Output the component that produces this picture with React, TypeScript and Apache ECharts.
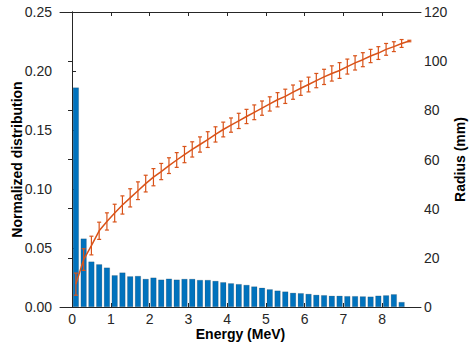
import React, { useEffect, useRef } from "react";
import * as echarts from "echarts";

const energies = [0.1, 0.3, 0.5, 0.7, 0.9, 1.1, 1.3, 1.5, 1.7, 1.9, 2.1, 2.3, 2.5, 2.7, 2.9, 3.1, 3.3, 3.5, 3.7, 3.9, 4.1, 4.3, 4.5, 4.7, 4.9, 5.1, 5.3, 5.5, 5.7, 5.9, 6.1, 6.3, 6.5, 6.7, 6.9, 7.1, 7.3, 7.5, 7.7, 7.9, 8.1, 8.3, 8.5];
const distribution = [0.186, 0.058, 0.0385, 0.0362, 0.0334, 0.0269, 0.0292, 0.026, 0.0263, 0.0238, 0.0249, 0.0232, 0.024, 0.0232, 0.0238, 0.0238, 0.0229, 0.0229, 0.0221, 0.021, 0.0201, 0.0194, 0.0187, 0.0174, 0.0163, 0.015, 0.0139, 0.0131, 0.012, 0.0117, 0.0111, 0.0103, 0.01, 0.0095, 0.0095, 0.0092, 0.0092, 0.009, 0.0088, 0.0096, 0.0099, 0.0108, 0.0042];

const radiusEnergies = [0.1, 0.3, 0.5, 0.7, 0.9, 1.1, 1.3, 1.5, 1.7, 1.9, 2.1, 2.3, 2.5, 2.7, 2.9, 3.1, 3.3, 3.5, 3.7, 3.9, 4.1, 4.3, 4.5, 4.7, 4.9, 5.1, 5.3, 5.5, 5.7, 5.9, 6.1, 6.3, 6.5, 6.7, 6.9, 7.1, 7.3, 7.5, 7.7, 7.9, 8.1, 8.3, 8.5, 8.7];
const radius = [9.3, 19.3, 25.0, 31.0, 34.8, 38.2, 41.5, 44.4, 47.3, 50.2, 52.8, 55.1, 57.5, 59.8, 62.0, 64.1, 66.1, 68.1, 70.2, 72.2, 74.0, 75.7, 77.5, 79.2, 80.9, 82.6, 84.3, 85.7, 87.4, 89.0, 90.5, 92.1, 93.6, 95.0, 96.2, 97.8, 99.3, 100.6, 102.1, 103.3, 104.8, 105.9, 107.2, 108.2];
const radiusErr = [4.5, 4.4, 3.8, 3.5, 3.5, 3.6, 3.7, 3.7, 3.6, 3.4, 3.5, 3.3, 3.2, 3.0, 3.3, 3.1, 3.1, 3.2, 3.1, 3.0, 2.9, 3.1, 2.9, 3.0, 2.9, 2.9, 2.9, 2.9, 2.9, 2.9, 3.0, 2.9, 3.1, 3.1, 3.2, 3.05, 2.9, 2.85, 2.7, 2.6, 2.4, 2.0, 1.6, 0.3];

const xTicks = [0, 1, 2, 3, 4, 5, 6, 7, 8];

const FONT = "'Liberation Sans', Arial, Helvetica, sans-serif";
const AX = "#262626";
const ORANGE = "#D95319";
const BLUE = "#0072BD";

export default function App() {
  const ref = useRef<HTMLDivElement>(null);
  useEffect(() => {
    if (!ref.current) return;
    const chart = echarts.init(ref.current, undefined, { renderer: "svg" });
    const barData = energies.map((e, i) => [e, distribution[i]]);
    const lineData = radiusEnergies.map((e, i) => [e, radius[i]]);
    const errData = radiusEnergies.map((e, i) => [e, radius[i], radiusErr[i]]);
    const axisLineStyle = { color: AX, width: 1 };
    chart.setOption({
      animation: false,
      backgroundColor: "#ffffff",
      textStyle: { fontFamily: FONT },
      grid: { left: 60, right: 48, top: 12, bottom: 38, show: false, containLabel: false, outerBoundsMode: "none" },
      xAxis: [
        {
          type: "value",
          min: -0.31,
          max: 9,
          position: "bottom",
          name: "Energy (MeV)",
          nameLocation: "middle",
          nameGap: 20,
          nameMoveOverlap: false,
          nameTextStyle: { fontFamily: FONT, fontSize: 14, fontWeight: "bold", color: "#000", verticalAlign: "top" },
          axisLine: { show: true, onZero: false, lineStyle: axisLineStyle },
          axisTick: { show: true, inside: true, length: 4, customValues: xTicks, lineStyle: axisLineStyle },
          axisLabel: { customValues: xTicks, fontFamily: FONT, fontSize: 14, color: AX, margin: 5 },
          splitLine: { show: false },
        },
        {
          type: "value",
          min: -0.31,
          max: 9,
          position: "top",
          axisLine: { show: true, onZero: false, lineStyle: axisLineStyle },
          axisTick: { show: true, inside: true, length: 4, customValues: xTicks, lineStyle: axisLineStyle },
          axisLabel: { show: false },
          splitLine: { show: false },
        },
      ],
      yAxis: [
        {
          type: "value",
          min: 0,
          max: 0.25,
          interval: 0.05,
          position: "left",
          name: "Normalized distribution",
          nameLocation: "middle",
          nameGap: 36,
          nameMoveOverlap: false,
          nameTextStyle: { fontFamily: FONT, fontSize: 14, fontWeight: "bold", color: "#000" },
          axisLine: { show: true, lineStyle: axisLineStyle },
          axisTick: { show: true, inside: true, length: 4, lineStyle: axisLineStyle },
          axisLabel: { formatter: (v: number) => v.toFixed(2), fontFamily: FONT, fontSize: 14, color: AX, margin: 8 },
          splitLine: { show: false },
        },
        {
          type: "value",
          min: 0,
          max: 120,
          interval: 20,
          position: "right",
          name: "Radius (mm)",
          nameLocation: "middle",
          nameGap: 32,
          nameMoveOverlap: false,
          nameTextStyle: { fontFamily: FONT, fontSize: 14, fontWeight: "bold", color: "#000" },
          axisLine: { show: true, lineStyle: axisLineStyle },
          axisTick: { show: true, inside: true, length: 4, lineStyle: axisLineStyle },
          axisLabel: { fontFamily: FONT, fontSize: 14, color: AX, margin: 3 },
          splitLine: { show: false },
        },
      ],
      series: [
        {
          type: "bar",
          xAxisIndex: 0,
          yAxisIndex: 0,
          data: barData,
          barWidth: 6,
          itemStyle: { color: BLUE, borderColor: "rgba(40,40,40,0.35)", borderWidth: 0.5 },
        },
        {
          type: "line",
          xAxisIndex: 0,
          yAxisIndex: 1,
          data: lineData,
          symbol: "none",
          lineStyle: { color: ORANGE, width: 1.5 },
          z: 3,
        },
        {
          type: "custom",
          xAxisIndex: 0,
          yAxisIndex: 1,
          data: errData,
          z: 4,
          renderItem: (params: any, api: any) => {
            const x = api.value(0);
            const y = api.value(1);
            const e = api.value(2);
            const lo = api.coord([x, y - e]);
            const hi = api.coord([x, y + e]);
            const cap = 2;
            const style = { stroke: ORANGE, lineWidth: 1.2 };
            return {
              type: "group",
              children: [
                { type: "line", shape: { x1: lo[0], y1: lo[1], x2: hi[0], y2: hi[1] }, style },
                { type: "line", shape: { x1: lo[0] - cap, y1: lo[1], x2: lo[0] + cap, y2: lo[1] }, style },
                { type: "line", shape: { x1: hi[0] - cap, y1: hi[1], x2: hi[0] + cap, y2: hi[1] }, style },
              ],
            };
          },
        },
      ],
    });
    return () => chart.dispose();
  }, []);
  return (
    <div
      ref={ref}
      style={{ position: "fixed", left: 0, top: 0, width: 469, height: 345, background: "#fff" }}
    />
  );
}
